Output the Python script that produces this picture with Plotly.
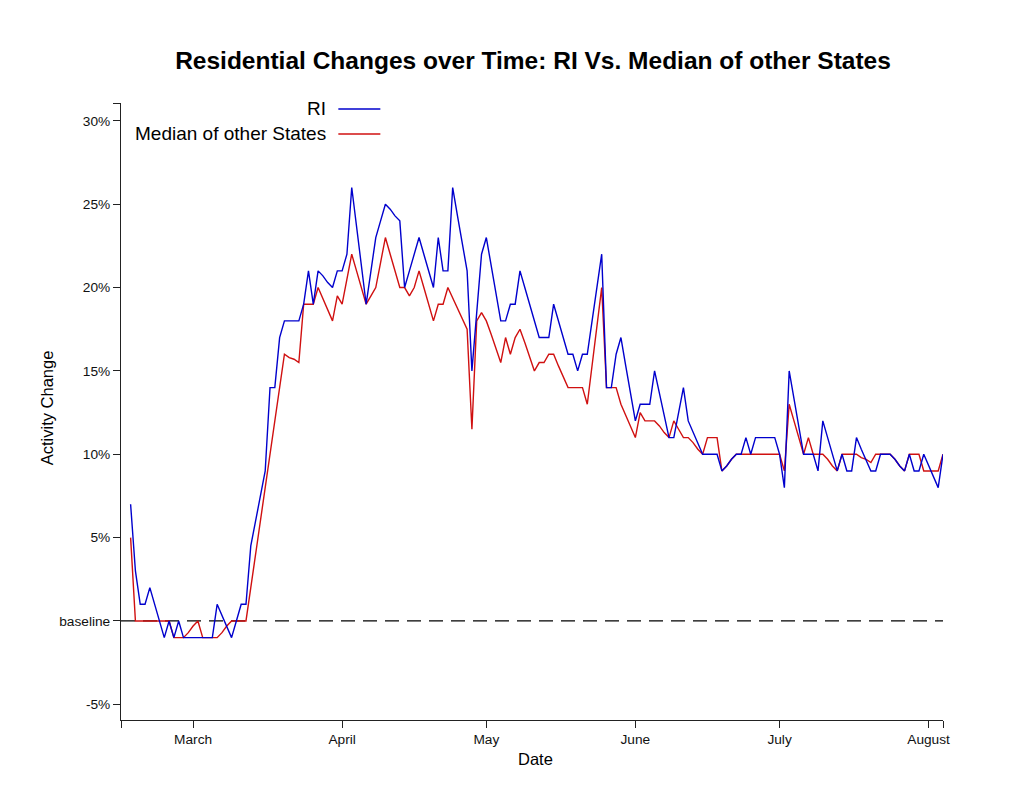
import pandas as pd
import plotly.graph_objects as go

start_date = "2020-02-17"
ri_values = [
    7, 3, 1, 1, 2, 1, 0, -1, 0, -1,
    0, -1, -1, -1, -1, -1, -1, -1, 1, 0.3,
    -0.3, -1, 0, 1, 1, 4.5, 6, 7.5, 9, 14,
    14, 17, 18, 18, 18, 18, 19, 21, 19, 21,
    20.7, 20.3, 20, 21, 21, 22, 26, 23.7, 21.3, 19,
    21, 23, 24, 25, 24.7, 24.3, 24, 20, 21, 22,
    23, 22, 21, 20, 23, 21, 21, 26, 24.3, 22.7,
    21, 15, 18.5, 22, 23, 21.3, 19.7, 18, 18, 19,
    19, 21, 20, 19, 18, 17, 17, 17, 19, 18,
    17, 16, 16, 15, 16, 16, 18, 20, 22, 14,
    14, 16, 17, 15.3, 13.7, 12, 13, 13, 13, 15,
    13.7, 12.3, 11, 11, 12.5, 14, 12, 11.3, 10.7, 10,
    10, 10, 10, 9, 9.3, 9.7, 10, 10, 11, 10,
    11, 11, 11, 11, 11, 10, 8, 15, 13.3, 11.7,
    10, 10, 10, 9, 12, 11, 10, 9, 10, 9,
    9, 11, 10.3, 9.7, 9, 9, 10, 10, 10, 9.7,
    9.3, 9, 10, 9, 9, 10, 9.3, 8.7, 8, 10,
]
median_values = [
    5, 0, 0, 0, 0, 0, 0, 0, 0, -1,
    -1, -1, -0.7, -0.3, 0, -1, -1, -1, -1, -0.7,
    -0.3, 0, 0, 0, 0, 2, 4, 6, 8, 10,
    12, 14, 16, 15.8, 15.7, 15.5, 19, 19, 19, 20,
    19.3, 18.7, 18, 19.5, 19, 20.5, 22, 21, 20, 19,
    19.5, 20, 21.5, 23, 22, 21, 20, 20, 19.5, 20,
    21, 20, 19, 18, 19, 19, 20, 19.4, 18.8, 18.2,
    17.5, 11.5, 18, 18.5, 18, 17.2, 16.4, 15.5, 17, 16,
    17, 17.5, 16.7, 15.8, 15, 15.5, 15.5, 16, 16, 15.3,
    14.7, 14, 14, 14, 14, 13, 15.3, 17.7, 20, 14,
    14, 14, 13, 12.3, 11.7, 11, 12.5, 12, 12, 12,
    11.7, 11.3, 11, 12, 11.5, 11, 11, 10.7, 10.3, 10,
    11, 11, 11, 9, 9.3, 9.7, 10, 10, 10, 10,
    10, 10, 10, 10, 10, 10, 9, 13, 12, 11,
    10, 11, 10, 10, 10, 9.7, 9.3, 9, 10, 10,
    10, 10, 9.8, 9.7, 9.5, 10, 10, 10, 10, 9.7,
    9.3, 9, 10, 10, 10, 9, 9, 9, 9, 10,
]
dates = pd.date_range(start_date, periods=len(ri_values), freq="D")

x_range = ["2020-02-15", "2020-08-04"]
x_tick_vals = ["2020-02-15", "2020-03-01", "2020-04-01", "2020-05-01",
               "2020-06-01", "2020-07-01", "2020-08-01", "2020-08-04"]
x_tick_text = ["", "March", "April", "May", "June", "July", "August", ""]
y_range = [-5.94, 31.07]
y_tick_vals = [-5, 0, 5, 10, 15, 20, 25, 30, 31.07]
y_tick_text = ["-5%", "baseline", "5%", "10%", "15%", "20%", "25%", "30%", ""]
baseline_value = 0

BLUE = "#0000CD"
RED = "#D01010"
FONT = "Arial, Liberation Sans, sans-serif"

# page body has an 8px margin, so the figure is drawn 8px smaller and offset
W, H = 1003, 781

fig = go.Figure()
fig.add_trace(go.Scatter(x=x_range, y=[baseline_value, baseline_value], mode="lines",
                         line=dict(color="#000000", width=1.2, dash="14px,8px"),
                         showlegend=False, hoverinfo="skip", cliponaxis=False))
fig.add_trace(go.Scatter(x=dates, y=median_values, mode="lines", name="Median of other States",
                         line=dict(color=RED, width=1.4), showlegend=False))
fig.add_trace(go.Scatter(x=dates, y=ri_values, mode="lines", name="RI",
                         line=dict(color=BLUE, width=1.4), showlegend=False))

fig.update_layout(
    width=W, height=H,
    margin=dict(l=112.7, r=W - 934.7, t=95, b=H - 712),
    paper_bgcolor="white", plot_bgcolor="white",
    font=dict(family=FONT, color="#111111", size=13.7),
    title=dict(text="<b>Residential Changes over Time: RI Vs. Median of other States</b>",
               x=(533 - 8) / W, xref="container", xanchor="center",
               y=1 - 52 / H, yref="container", yanchor="middle",
               font=dict(size=24.5, family=FONT, color="black")),
    showlegend=False,
)
fig.update_xaxes(range=x_range, tickvals=x_tick_vals, ticktext=x_tick_text,
                 showgrid=False, zeroline=False, showline=True, linecolor="#222222",
                 linewidth=1, ticks="outside", ticklen=7, tickcolor="#222222",
                 tickfont=dict(size=13.7, family=FONT, color="#111111"))
fig.update_yaxes(range=y_range, tickvals=y_tick_vals, ticktext=y_tick_text,
                 showgrid=False, zeroline=False, showline=True, linecolor="#222222",
                 linewidth=1, ticks="outside", ticklen=7, tickcolor="#222222",
                 tickfont=dict(size=13.7, family=FONT, color="#111111"))

# axis titles
fig.add_annotation(text="Date", xref="paper", yref="paper", x=0.504, y=-0.0632,
                   showarrow=False, xanchor="center", yanchor="middle",
                   font=dict(size=16.5, family=FONT, color="black"))
fig.add_annotation(text="Activity Change", xref="paper", yref="paper", x=-0.0897, y=0.5057,
                   showarrow=False, textangle=-90, xanchor="center", yanchor="middle",
                   font=dict(size=16.5, family=FONT, color="black"))

# legend (text left of line sample)
legend_items = [("RI", BLUE, 0.9903), ("Median of other States", RED, 0.9498)]
for label, color, ly in legend_items:
    fig.add_annotation(text=label, xref="paper", yref="paper", x=0.2523, y=ly,
                       showarrow=False, xanchor="right", yanchor="middle",
                       font=dict(size=19, family=FONT, color="black"))
    fig.add_shape(type="line", xref="paper", yref="paper", x0=0.2644, x1=0.3155,
                  y0=ly, y1=ly, line=dict(color=color, width=1.4))

fig.write_html("out.html")
